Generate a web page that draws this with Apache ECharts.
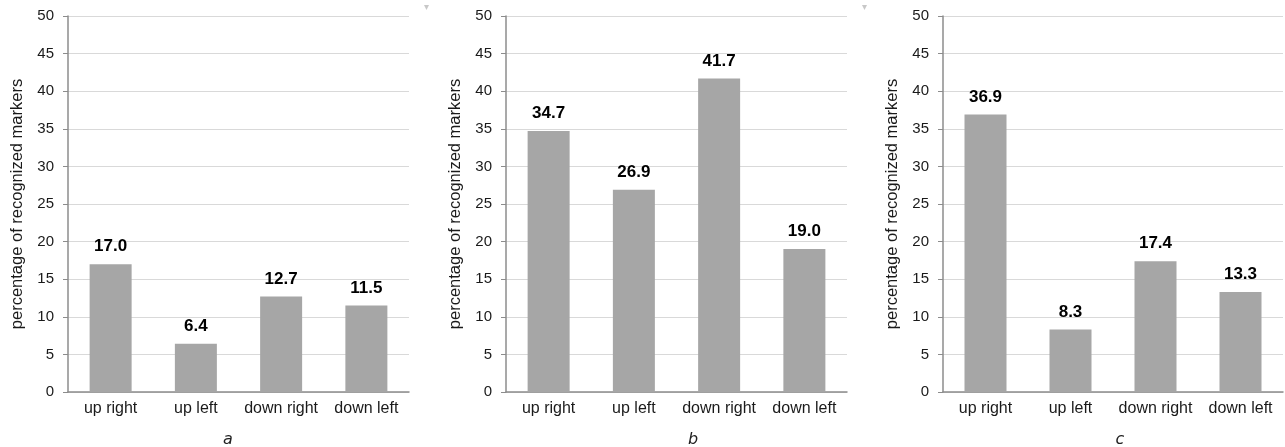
<!DOCTYPE html>
<html>
<head>
<meta charset="utf-8">
<script src="https://cdn.jsdelivr.net/npm/echarts@6/dist/echarts.min.js"></script>
<style>
html,body{margin:0;padding:0;background:#fff;}
#chart{width:1285px;height:447px;}
</style>
</head>
<body>
<div id="chart"></div>
<script>
const categories = ['up right', 'up left', 'down right', 'down left'];
const valuesA = [17.0, 6.4, 12.7, 11.5];
const valuesB = [34.7, 26.9, 41.7, 19.0];
const valuesC = [36.9, 8.3, 17.4, 13.3];
const panelLabels = ['a', 'b', 'c'];
const yTicks = { min: 0, max: 50, interval: 5 };
const yName = 'percentage of recognized markers';

const FONT = '"Liberation Sans", Arial, sans-serif';
const grids = [
  { left: 68, top: 16, width: 341, height: 376 },
  { left: 506, top: 16, width: 341, height: 376 },
  { left: 943, top: 16, width: 340, height: 376 }
];
const panelLabelPos = [[228, 440], [693, 440], [1120, 440]];
const seriesData = [valuesA, valuesB, valuesC];

const option = {
  animation: false,
  backgroundColor: '#ffffff',
  grid: grids,
  xAxis: grids.map((g, i) => ({
    type: 'category',
    gridIndex: i,
    data: categories,
    axisLine: { show: true, lineStyle: { color: '#8c8c8c', width: 1.5 } },
    axisTick: { show: false },
    axisLabel: { color: '#1a1a1a', fontSize: 16, fontFamily: FONT, margin: 9, interval: 0 }
  })),
  yAxis: grids.map((g, i) => ({
    type: 'value',
    gridIndex: i,
    min: yTicks.min,
    max: yTicks.max,
    interval: yTicks.interval,
    name: yName,
    nameLocation: 'middle',
    nameGap: 42,
    nameTextStyle: { color: '#1a1a1a', fontSize: 16.5, fontFamily: FONT },
    axisLine: { show: true, lineStyle: { color: '#8c8c8c', width: 1.5 } },
    axisTick: { show: true, length: 5, lineStyle: { color: '#8c8c8c' } },
    axisLabel: { color: '#1a1a1a', fontSize: 15, fontFamily: FONT, margin: 14 },
    splitLine: { show: true, lineStyle: { color: '#d9d9d9', width: 1 } }
  })),
  series: seriesData.map((d, i) => ({
    type: 'bar',
    xAxisIndex: i,
    yAxisIndex: i,
    data: d,
    barWidth: 42,
    itemStyle: { color: '#a6a6a6' },
    label: {
      show: true,
      position: 'top',
      distance: 9,
      color: '#000',
      fontSize: 17,
      fontWeight: 'bold',
      fontFamily: FONT,
      formatter: p => p.value.toFixed(1)
    }
  })),
  graphic: panelLabels.map((t, i) => ({
    type: 'text',
    x: panelLabelPos[i][0],
    y: panelLabelPos[i][1],
    style: {
      text: t,
      fontSize: 16,
      fontStyle: 'italic',
      fontFamily: '"DejaVu Sans", sans-serif',
      fill: '#222',
      align: 'center',
      verticalAlign: 'middle'
    }
  })).concat([
    { type: 'polygon', shape: { points: [[424, 5], [429, 5], [426.5, 10]] }, style: { fill: '#c8c8c8' } },
    { type: 'polygon', shape: { points: [[862, 5], [867, 5], [864.5, 10]] }, style: { fill: '#c8c8c8' } }
  ])
};

const chart = echarts.init(document.getElementById('chart'), null, { renderer: 'canvas' });
chart.setOption(option);
</script>
</body>
</html>
